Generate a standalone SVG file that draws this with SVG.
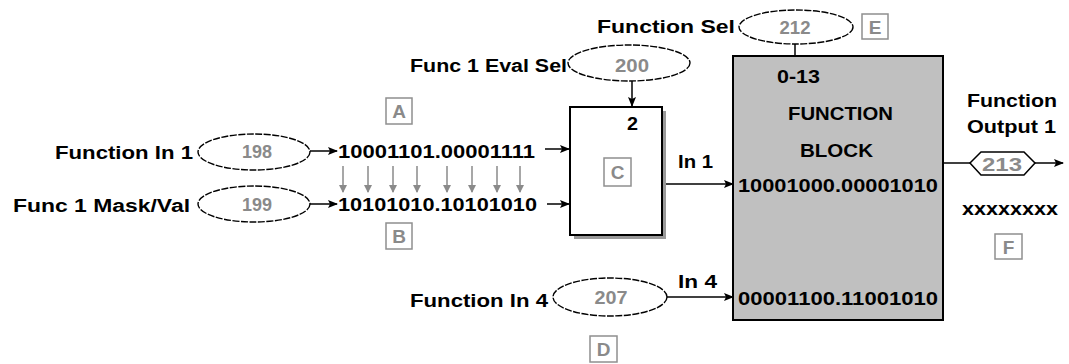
<svg xmlns="http://www.w3.org/2000/svg" width="1069" height="364" viewBox="0 0 1069 364">
<style>
.t{font-family:"Liberation Sans",Arial,sans-serif;font-weight:bold;font-size:18px;fill:#000}
.g{font-family:"Liberation Sans",Arial,sans-serif;font-weight:bold;font-size:18px;fill:#8a8a8a;text-anchor:middle}
.lb{font-family:"Liberation Sans",Arial,sans-serif;font-weight:bold;font-size:19px;fill:#8a8a8a;text-anchor:middle}
.ell{fill:#fff;stroke:#000;stroke-width:1.4;stroke-dasharray:7 1.5}
.box{fill:#fff;stroke:#8f8f8f;stroke-width:1.5}
.c{stroke:#000;stroke-width:1.5;fill:none}
.ca{stroke:#000;stroke-width:1.5;fill:none;marker-end:url(#ah)}
.gc{stroke:#8a8a8a;stroke-width:1.5;fill:none;marker-end:url(#gh)}
</style>
<defs>
<marker id="ah" markerUnits="userSpaceOnUse" markerWidth="10" markerHeight="8" refX="9" refY="4" orient="auto"><path d="M0,0 L10,4 L0,8 L2,4 Z" fill="#000"/></marker>
<marker id="gh" markerUnits="userSpaceOnUse" markerWidth="8" markerHeight="8" refX="7" refY="4" orient="auto"><path d="M0,0 L8,4 L0,8 Z" fill="#8a8a8a"/></marker>
</defs>
<rect width="1069" height="364" fill="#fff"/>

<g id="connectors">
<line class="ca" x1="310" y1="151" x2="337" y2="151"/>
<line class="ca" x1="310" y1="204" x2="337" y2="204"/>
<line class="ca" x1="545" y1="149" x2="569" y2="149"/>
<line class="ca" x1="547" y1="204" x2="569" y2="204"/>
<line class="ca" x1="632" y1="81" x2="632" y2="106"/>
<line class="ca" x1="662" y1="184" x2="733" y2="184"/>
<line class="ca" x1="667" y1="297" x2="733" y2="297"/>
<line class="c" x1="795" y1="44" x2="795" y2="56"/>
<line class="c" x1="943" y1="163" x2="970" y2="163"/>
<line class="ca" x1="1035" y1="163" x2="1063" y2="163"/>
<line class="gc" x1="343" y1="166" x2="343" y2="192"/>
<line class="gc" x1="368" y1="166" x2="368" y2="192"/>
<line class="gc" x1="393" y1="166" x2="393" y2="192"/>
<line class="gc" x1="417" y1="166" x2="417" y2="192"/>
<line class="gc" x1="447" y1="166" x2="447" y2="192"/>
<line class="gc" x1="472" y1="166" x2="472" y2="192"/>
<line class="gc" x1="497" y1="166" x2="497" y2="192"/>
<line class="gc" x1="520" y1="166" x2="520" y2="192"/>
</g>

<g id="function-sel">
<text class="t" x="597" y="33" textLength="138" lengthAdjust="spacingAndGlyphs">Function Sel</text>
<ellipse class="ell" cx="796" cy="27" rx="57" ry="17"/>
<text class="g" x="795" y="34" textLength="31" lengthAdjust="spacingAndGlyphs">212</text>
</g>
<g id="label-E"><rect class="box" x="862" y="14" width="26" height="25"/><text class="lb" x="875" y="34">E</text></g>

<g id="eval-sel">
<text class="t" x="410" y="72" textLength="157" lengthAdjust="spacingAndGlyphs">Func 1 Eval Sel</text>
<ellipse class="ell" cx="629" cy="63" rx="61" ry="18"/>
<text class="g" x="632" y="72" textLength="34" lengthAdjust="spacingAndGlyphs">200</text>
</g>

<g id="label-A"><rect class="box" x="386" y="98" width="26" height="26"/><text class="lb" x="399" y="118">A</text></g>

<g id="function-in-1">
<text class="t" x="55" y="159" textLength="138" lengthAdjust="spacingAndGlyphs">Function In 1</text>
<ellipse class="ell" cx="254" cy="152" rx="56" ry="18"/>
<text class="g" x="257" y="158" textLength="30" lengthAdjust="spacingAndGlyphs">198</text>
</g>

<g id="mask-val">
<text class="t" x="13" y="212" textLength="177" lengthAdjust="spacingAndGlyphs">Func 1 Mask/Val</text>
<ellipse class="ell" cx="254" cy="204" rx="56" ry="18"/>
<text class="g" x="257" y="211" textLength="30" lengthAdjust="spacingAndGlyphs">199</text>
</g>

<g id="value-1"><text class="t" x="338" y="158" textLength="197" lengthAdjust="spacingAndGlyphs">10001101.00001111</text></g>
<g id="value-2"><text class="t" x="338" y="211" textLength="199" lengthAdjust="spacingAndGlyphs">10101010.10101010</text></g>

<g id="label-B"><rect class="box" x="386" y="223" width="26" height="26"/><text class="lb" x="399" y="243">B</text></g>

<g id="block-C">
<rect x="574" y="111" width="92" height="128" fill="#9a9a9a"/>
<rect x="570" y="107" width="92" height="128" fill="#fff" stroke="#000" stroke-width="2"/>
<text class="t" x="627" y="130" textLength="11" lengthAdjust="spacingAndGlyphs">2</text>
<rect class="box" x="604" y="158" width="27" height="28"/>
<text class="lb" x="617.5" y="179">C</text>
</g>

<g id="in-labels">
<text class="t" x="678" y="168" textLength="35" lengthAdjust="spacingAndGlyphs">In 1</text>
<text class="t" x="678" y="288" textLength="39" lengthAdjust="spacingAndGlyphs">In 4</text>
</g>

<g id="function-in-4">
<text class="t" x="410" y="307" textLength="138" lengthAdjust="spacingAndGlyphs">Function In 4</text>
<ellipse class="ell" cx="610" cy="297" rx="57" ry="19"/>
<text class="g" x="611" y="304" textLength="33" lengthAdjust="spacingAndGlyphs">207</text>
</g>
<g id="label-D"><rect class="box" x="590" y="336" width="27" height="26"/><text class="lb" x="603.5" y="356">D</text></g>

<g id="function-block">
<rect x="733" y="56" width="210" height="264" fill="#c0c0c0" stroke="#000" stroke-width="2"/>
<text class="t" x="777" y="83" textLength="43" lengthAdjust="spacingAndGlyphs">0-13</text>
<text class="t" x="788" y="120" textLength="105" lengthAdjust="spacingAndGlyphs">FUNCTION</text>
<text class="t" x="800" y="157" textLength="73" lengthAdjust="spacingAndGlyphs">BLOCK</text>
<text class="t" x="738" y="192" textLength="200" lengthAdjust="spacingAndGlyphs">10001000.00001010</text>
<text class="t" x="738" y="305" textLength="200" lengthAdjust="spacingAndGlyphs">00001100.11001010</text>
</g>

<g id="function-output-1">
<text class="t" x="967" y="107" textLength="90" lengthAdjust="spacingAndGlyphs">Function</text>
<text class="t" x="967" y="133" textLength="89" lengthAdjust="spacingAndGlyphs">Output 1</text>
<polygon points="970,163 981,152 1024,152 1035,163 1024,175 981,175" fill="#fff" stroke="#000" stroke-width="1.5"/>
<text class="g" x="1002" y="171" textLength="40" lengthAdjust="spacingAndGlyphs">213</text>
<text class="t" x="962" y="215" textLength="96" lengthAdjust="spacingAndGlyphs">xxxxxxxx</text>
</g>
<g id="label-F"><rect class="box" x="995" y="234" width="27" height="25"/><text class="lb" x="1008.5" y="254">F</text></g>
</svg>
